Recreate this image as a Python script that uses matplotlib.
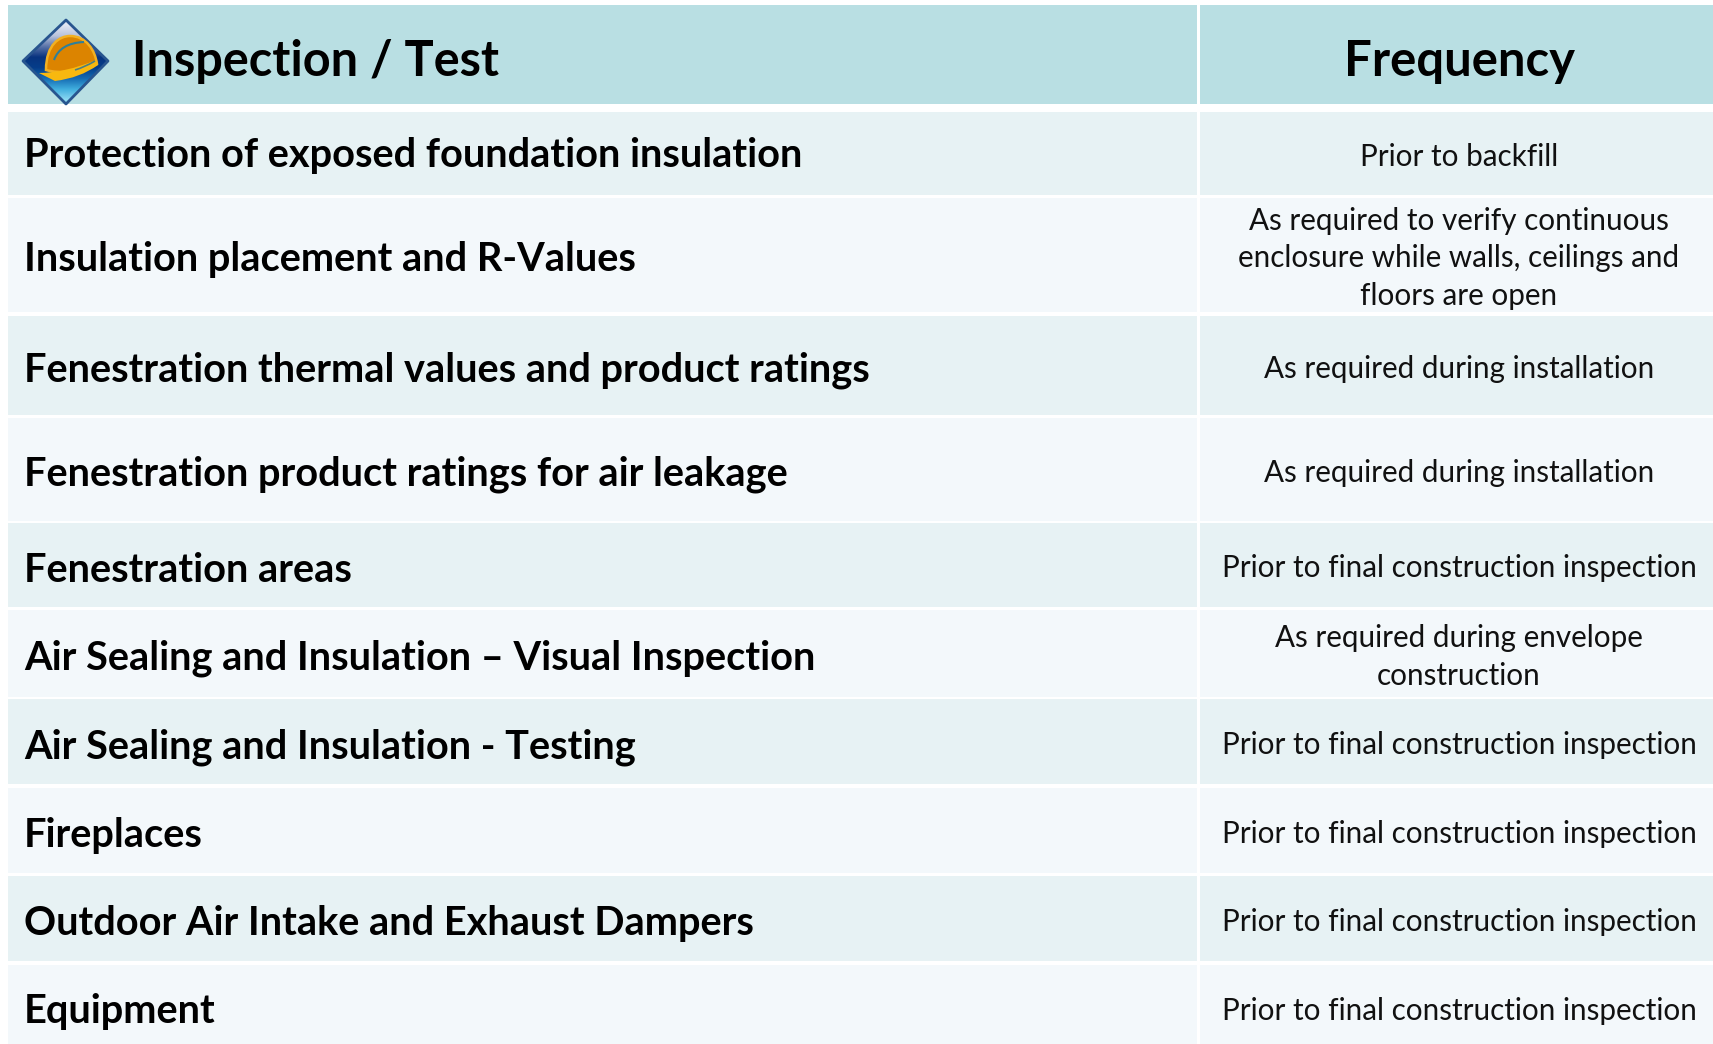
import numpy as np
import matplotlib.pyplot as plt
from matplotlib.patches import Polygon, Rectangle, PathPatch
from matplotlib.path import Path

# table content
header_left = 'Inspection / Test'
header_right = 'Frequency'
inspections = [
    'Protection of exposed foundation insulation',
    'Insulation placement and R-Values',
    'Fenestration thermal values and product ratings',
    'Fenestration product ratings for air leakage',
    'Fenestration areas',
    'Air Sealing and Insulation \u2013 Visual Inspection',
    'Air Sealing and Insulation - Testing',
    'Fireplaces',
    'Outdoor Air Intake and Exhaust Dampers',
    'Equipment',
]
frequencies = [
    'Prior to backfill',
    'As required to verify continuous\nenclosure while walls, ceilings and\nfloors are open',
    'As required during installation',
    'As required during installation',
    'Prior to final construction inspection',
    'As required during envelope\nconstruction',
    'Prior to final construction inspection',
    'Prior to final construction inspection',
    'Prior to final construction inspection',
    'Prior to final construction inspection',
]

# row edges in pixels (last row runs off the bottom of the picture)
row_top = [112, 198, 316, 418, 523, 610, 699, 788, 876, 965]
row_bot = [195, 312, 415, 521, 607, 697, 784, 873, 961, 1050]
# small nudges of the bold text per row
bold_nudge = [-1, 1, 1, 1, 2, 1, 2, 2, 2, 1]

plt.rcParams['font.family'] = ['Lato', 'DejaVu Sans']

fig = plt.figure(figsize=(17.13, 10.44), dpi=100)
ax = fig.add_axes([0, 0, 1, 1])
ax.set_xlim(0, 1713)
ax.set_ylim(1044, 0)
ax.axis('off')


def cell(x0, x1, y0, y1, color):
    ax.add_patch(Rectangle((x0, y0), x1 - x0, y1 - y0, fc=color, ec='none'))


# header
cell(8, 1197, 5, 104, '#b9dfe3')
cell(1200, 1713, 5, 104, '#b9dfe3')
ax.text(132, 61, header_left, fontsize=35, fontweight='bold', va='center', color='black')
ax.text(1459, 61, header_right, fontsize=35.3, fontweight='bold', va='center', ha='center', color='black')

# body rows
for i in range(len(inspections)):
    color = '#e7f2f4' if i % 2 == 0 else '#f3f8fb'
    cell(8, 1197, row_top[i], row_bot[i], color)
    cell(1200, 1713, row_top[i], row_bot[i], color)
    y = (row_top[i] + row_bot[i]) / 2 + 3.5
    ax.text(24, y + bold_nudge[i], inspections[i], fontsize=28.6, fontweight='bold', va='center', color='black')
    ax.text(1459, y, frequencies[i], fontsize=21.3, va='center', ha='center',
            color='#111111', linespacing=1.43, multialignment='center')

# helmet icon
diamond = [(23, 61), (66, 20), (108, 61), (66, 104)]
clip = Polygon(diamond, closed=True, fc='none', ec='#28558f', lw=2.0, joinstyle='round', zorder=3)
ax.add_patch(clip)
grad = np.array([[0.88, 0.90, 0.95], [0.72, 0.76, 0.86], [0.35, 0.45, 0.66], [0.03, 0.20, 0.50],
                 [0.02, 0.24, 0.54], [0.08, 0.42, 0.70], [0.25, 0.68, 0.87], [0.55, 0.85, 0.95]])
im = ax.imshow(grad[:, None, :], extent=(23, 109, 105, 20), aspect='auto', zorder=2, interpolation='bilinear')
im.set_clip_path(clip)
ax.set_xlim(0, 1713)
ax.set_ylim(1044, 0)

dome = Path([(46, 70), (46, 44), (60, 36), (70, 36), (86, 36), (95, 50), (97, 64), (80, 72), (60, 74), (46, 70), (46, 70)],
            [Path.MOVETO, Path.CURVE4, Path.CURVE4, Path.CURVE4, Path.CURVE4, Path.CURVE4, Path.CURVE4,
             Path.CURVE4, Path.CURVE4, Path.CURVE4, Path.CLOSEPOLY])
ax.add_patch(PathPatch(dome, fc='#dc8400', ec='#f2b022', lw=1.8, zorder=4))
brim = Path([(39, 73), (65, 73), (96, 60), (98, 65), (80, 78), (55, 81), (39, 73), (39, 73)],
            [Path.MOVETO, Path.CURVE3, Path.CURVE3, Path.LINETO, Path.CURVE3, Path.CURVE3, Path.LINETO, Path.CLOSEPOLY])
ax.add_patch(PathPatch(brim, fc='#f8b80f', ec='none', zorder=5))
ridge = Path([(54, 60), (60, 43), (84, 42)], [Path.MOVETO, Path.CURVE3, Path.CURVE3])
ax.add_patch(PathPatch(ridge, fc='none', ec='#2d7f9a', lw=1.5, zorder=6))
ridge2 = Path([(75, 70), (85, 67), (95, 61)], [Path.MOVETO, Path.CURVE3, Path.CURVE3])
ax.add_patch(PathPatch(ridge2, fc='none', ec='#4d7f80', lw=1.2, zorder=6))

fig.savefig('out.png', dpi=100)
